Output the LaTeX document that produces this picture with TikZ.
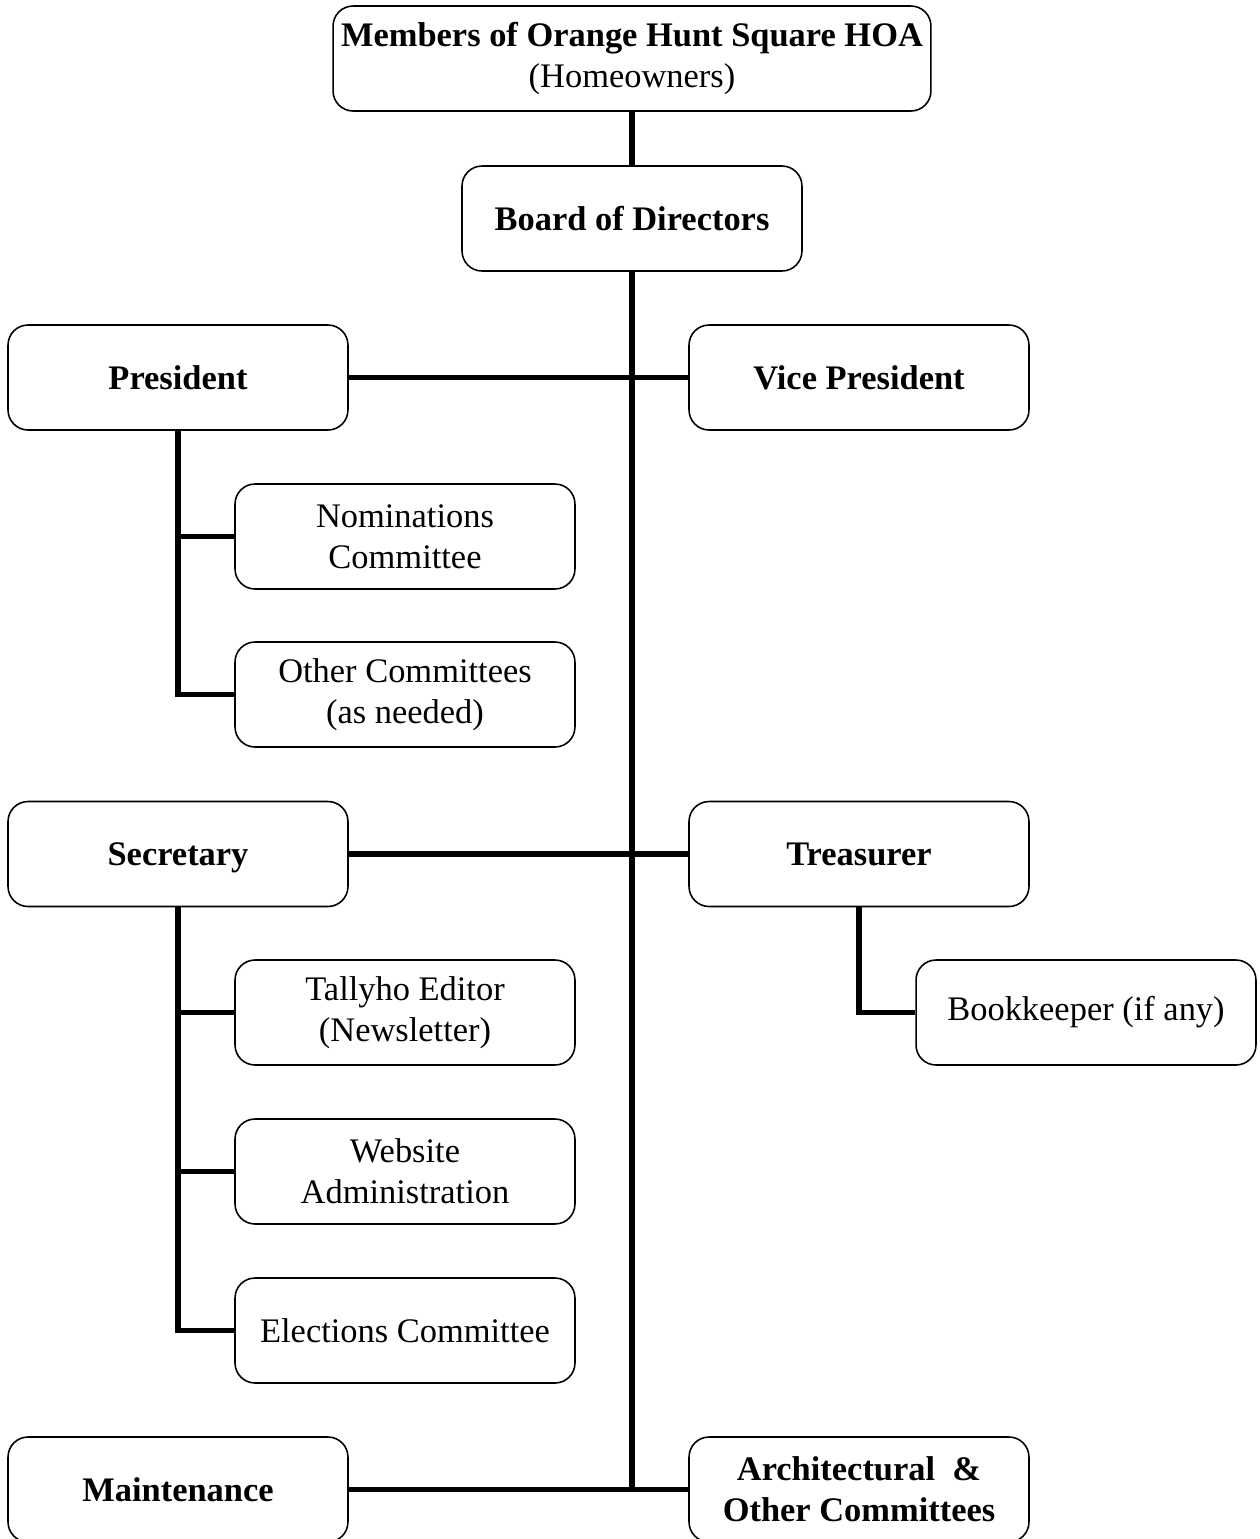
\documentclass[tikz,border=0pt]{standalone}
\usepackage{fontspec}
\setmainfont{Liberation Serif}
\usepackage{tikz}

\tikzset{
    unit/.style={draw, rounded corners=0.4cm, line width=0.9pt, align=center,
        minimum width=6.8cm, minimum height=2.1cm, inner sep=2pt,
        font=\fontsize{19.6}{23.5}\selectfont},
    office/.style={unit, font=\fontsize{19.6}{23.5}\selectfont\bfseries},
    link/.style={line width=3.2pt}
}

\begin{document}
\begin{tikzpicture}[x=0.02cm, y=-0.02cm]
    \useasboundingbox (0, 0) rectangle (1260, 1539);

    \node [unit, minimum width=11.96cm] (members) at (632, 58.5)
        {\textbf{Members of Orange Hunt Square HOA}\\(Homeowners)};
    \node [office] (board) at (632, 218.5) {Board of Directors};

    \node [office] (pres) at (178, 377.5) {President};
    \node [office] (vp) at (859, 377.5) {Vice President};
    \node [unit] (nom) at (405, 536.5) {Nominations\\Committee};
    \node [unit] (other) at (405, 694.5) {Other Committees\\(as needed)};

    \node [office, text depth=0pt] (sec) at (178, 854) {Secretary};
    \node [office] (treas) at (859, 854) {Treasurer};
    \node [unit] (tally) at (405, 1012.5) {Tallyho Editor\\(Newsletter)};
    \node [unit] (book) at (1086, 1012.5) {Bookkeeper (if any)};
    \node [unit] (web) at (405, 1171.5) {Website\\Administration};
    \node [unit] (elect) at (405, 1330.5) {Elections Committee};

    \node [office] (maint) at (178, 1489.5) {Maintenance};
    \node [office] (arch) at (859, 1489.5) {Architectural~ \&\\Other Committees};

    \coordinate (spine) at (632, 1489.5);

    % main line
    \draw [link] (members.south) -- (board.north);
    \draw [link] (board.south) -- (spine);
    \draw [link] (pres.east) -- (vp.west);
    \draw [link] (sec.east) -- (treas.west);
    \draw [link] (maint.east) -- (arch.west);

    % branches
    \draw [link] (pres.south) |- (nom.west);
    \draw [link] (pres.south) |- (other.west);
    \draw [link] (sec.south) |- (tally.west);
    \draw [link] (sec.south) |- (web.west);
    \draw [link] (sec.south) |- (elect.west);
    \draw [link] (treas.south) |- (book.west);
\end{tikzpicture}
\end{document}
